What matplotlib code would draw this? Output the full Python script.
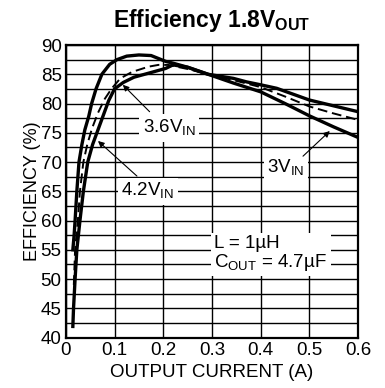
import matplotlib
matplotlib.use("Agg")
import matplotlib.pyplot as plt
import numpy as np

plt.rcParams['font.family'] = ['Liberation Sans', 'DejaVu Sans']
plt.rcParams['mathtext.fontset'] = 'custom'
plt.rcParams['mathtext.rm'] = 'Liberation Sans'
plt.rcParams['mathtext.bf'] = 'Liberation Sans:bold'

# efficiency curves, output current in A, efficiency in %
i_3v0 = [0.0144, 0.017, 0.019, 0.0226, 0.027, 0.033, 0.039, 0.047, 0.053, 0.062,
         0.074, 0.09, 0.105, 0.125, 0.15, 0.175, 0.19, 0.205, 0.22, 0.25,
         0.292, 0.344, 0.4, 0.45, 0.5, 0.55, 0.6]
eff_3v0 = [55.0, 57.5, 60.0, 65.0, 70.0, 73.0, 75.5, 77.8, 80.0, 82.5,
           85.0, 86.7, 87.5, 88.1, 88.3, 88.2, 87.7, 87.2, 86.9, 86.2,
           85.0, 83.5, 82.0, 80.0, 77.9, 76.0, 74.2]

i_3v6 = [0.0164, 0.019, 0.0247, 0.029, 0.036, 0.044, 0.054, 0.066, 0.08, 0.0945,
         0.112, 0.136, 0.17, 0.19, 0.21, 0.25, 0.292, 0.344, 0.4, 0.45,
         0.5, 0.55, 0.6]
eff_3v6 = [49.0, 55.0, 60.0, 65.0, 70.0, 73.0, 75.8, 78.4, 80.8, 82.6,
           84.3, 85.4, 86.3, 86.6, 86.6, 85.9, 85.0, 84.0, 82.8, 81.2,
           79.5, 78.3, 77.2]

i_4v2 = [0.0144, 0.0158, 0.019, 0.0226, 0.029, 0.036, 0.045, 0.055, 0.066, 0.077,
         0.088, 0.1, 0.118, 0.14, 0.175, 0.205, 0.22, 0.25, 0.292, 0.344,
         0.371, 0.4, 0.433, 0.5, 0.55, 0.6]
eff_4v2 = [41.9, 45.0, 50.0, 55.0, 60.0, 65.0, 70.0, 73.0, 75.5, 78.0,
           80.5, 82.5, 83.6, 84.5, 85.3, 86.0, 86.6, 86.2, 85.0, 84.3,
           83.7, 83.2, 82.6, 80.6, 79.6, 78.6]

x_ticks = [0, 0.1, 0.2, 0.3, 0.4, 0.5, 0.6]
x_tick_labels = ['0', '0.1', '0.2', '0.3', '0.4', '0.5', '0.6']
y_ticks = [40, 45, 50, 55, 60, 65, 70, 75, 80, 85, 90]

fig = plt.figure(figsize=(3.85, 3.88), dpi=100)
ax = fig.add_axes([0.171, 0.13, 0.759, 0.754])

ax.plot(i_3v0, eff_3v0, color='black', lw=2.4, solid_joinstyle='round', zorder=3)
ax.plot(i_3v6, eff_3v6, color='black', lw=1.4, ls=(0, (5, 2.5)), zorder=3)
ax.plot(i_4v2, eff_4v2, color='black', lw=2.4, solid_joinstyle='round', zorder=3)

ax.set_xlim(0, 0.6)
ax.set_ylim(40, 90)
ax.set_xticks(x_ticks)
ax.set_xticklabels(x_tick_labels)
ax.set_yticks(y_ticks)
ax.set_yticks(np.arange(40, 90.1, 2.5), minor=True)
ax.tick_params(which='both', length=0, labelsize=13.5, pad=3)
ax.grid(True, which='both', color='black', lw=1.0, zorder=1)
for s in ax.spines.values():
    s.set_linewidth(1.6)

ax.set_xlabel('OUTPUT CURRENT (A)', fontsize=13.5, labelpad=4)
ax.set_ylabel('EFFICIENCY (%)', fontsize=13, labelpad=0)
ax.set_title(r'Efficiency 1.8V$_{\mathbf{OUT}}$', fontsize=16.5,
             fontweight='bold', pad=13)

box = dict(facecolor='white', edgecolor='none', pad=2.5)
arrow = dict(arrowstyle='-|>', color='black', lw=0.8, mutation_scale=9,
             shrinkA=0, shrinkB=0)

ax.text(0.212, 75.8, r'3.6V$_{\mathregular{IN}}$', fontsize=13.5,
        ha='center', va='center', bbox=box, zorder=4)
ax.annotate('', xy=(0.117, 83.2), xytext=(0.172, 78.6), arrowprops=arrow, zorder=4)

ax.text(0.168, 65.0, r'4.2V$_{\mathregular{IN}}$', fontsize=13.5,
        ha='center', va='center', bbox=box, zorder=4)
ax.annotate('', xy=(0.066, 73.6), xytext=(0.146, 67.6), arrowprops=arrow, zorder=4)

ax.text(0.452, 69.0, r'3V$_{\mathregular{IN}}$', fontsize=13.5,
        ha='center', va='center', bbox=box, zorder=4)
ax.annotate('', xy=(0.542, 75.3), xytext=(0.487, 71.0), arrowprops=arrow, zorder=4)

ax.text(0.305, 54.3, 'L = 1µH\n' + r'C$_{\mathregular{OUT}}$ = 4.7µF', fontsize=13.5,
        ha='left', va='center', linespacing=1.0, bbox=box, zorder=4)

fig.savefig('out.png', dpi=100)
